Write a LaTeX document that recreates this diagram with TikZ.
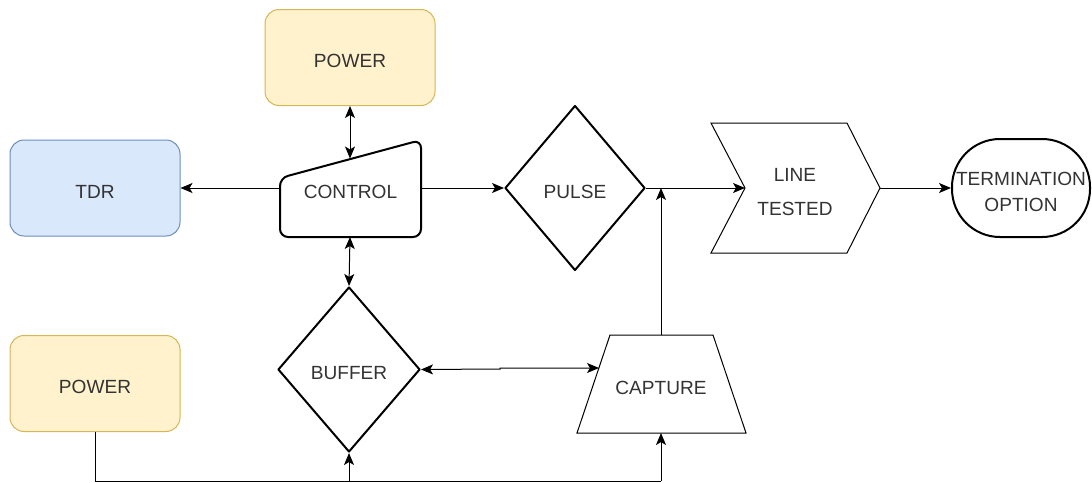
\documentclass[tikz,border=0pt]{standalone}
\usepackage{fontspec}
\setmainfont{Liberation Sans}
\usetikzlibrary{arrows.meta,shapes.geometric,calc}
\definecolor{ybg}{HTML}{FFF2CC}
\definecolor{ybd}{HTML}{D6B656}
\definecolor{bbg}{HTML}{DAE8FC}
\definecolor{bbd}{HTML}{6C8EBF}
\definecolor{txt}{HTML}{333333}
\tikzset{
  every node/.style={font=\fontsize{14.3}{19}\selectfont, text=txt, inner sep=0pt},
  lowered/.style={text height=15pt, text depth=0pt},
  thin line/.style={line width=0.75pt},
  thick line/.style={line width=1.5pt, line join=round},
  tip/.style={-{Stealth[length=9pt,width=7.5pt,inset=2.2pt]}},
  tips/.style={{Stealth[length=9pt,width=7.5pt,inset=2.2pt]}-{Stealth[length=9pt,width=7.5pt,inset=2.2pt]}},
  ybox/.style={draw=ybd, fill=ybg, thin line, rounded corners=10.5pt,
    minimum width=127.5pt, minimum height=72pt, lowered},
  bbox/.style={draw=bbd, fill=bbg, thin line, rounded corners=10.5pt,
    minimum width=127.5pt, minimum height=72pt, lowered},
  decision/.style={diamond, draw, thick line, aspect=0.85, lowered},
  label area/.style={draw=none, rectangle},
}
\begin{document}
\begin{tikzpicture}[x=0.75pt, y=-0.75pt]
\useasboundingbox (0,0) rectangle (1092,482);

% supply and display boxes
\node[ybox] (powerA) at (350,57.5) {POWER};
\node[bbox] (tdr) at (95,188) {TDR};
\node[ybox] (powerB) at (95,383.5) {POWER};

% controller: slanted-top manual input block
\draw[thick line, rounded corners=6pt]
  (280,237) -- (280,178) -- (421,140) -- (421,237) -- cycle;
\node[label area, lowered, minimum width=106.5pt, minimum height=73.5pt] (control) at (350.5,188) {CONTROL};
\coordinate (ctop) at (350,158.5);

% pulse generator and buffer decisions
\node[decision, minimum width=105pt, minimum height=123.75pt] (pulse) at (575,188) {PULSE};
\node[decision, minimum width=106.5pt, minimum height=123.75pt] (buffer) at (349,369.5) {BUFFER};

% line under test: chevron
\draw[thin line] (711,123) -- (847,123) -- (880,188) -- (847,253) -- (711,253) -- (745,188) -- cycle;
\node[label area, align=center] (line) at (795,192) {LINE\\[7pt]TESTED};
\coordinate (notch) at (745,188);
\coordinate (ltip) at (880,188);

% termination: stadium
\node[draw, thick line, rectangle, rounded corners=36pt,
  minimum width=103.5pt, minimum height=73.5pt] (term) at (1021,188) {};
\node[label area, align=center, font=\fontsize{14.3}{19.5}\selectfont] (termtext) at (1021,191.5) {TERMINATION\\OPTION};

% capture: trapezoid
\draw[thin line] (577,433) -- (610,335) -- (713,335) -- (746,433) -- cycle;
\node[label area, lowered] (capture) at (661,384) {CAPTURE};
\coordinate (captop) at (661,335);
\coordinate (capbot) at (661,433);
\coordinate (capleft) at (599,368);

% connectors
\draw[thin line, tips] (powerA.south) -- (ctop);
\draw[thin line, tip] (280,188) -- (tdr.east);
\draw[thin line, tip] (421,188) -- (pulse.west);
\draw[thin line, tip] (pulse.east) -- (notch);
\draw[thin line, tip] (ltip) -- (term.west);
\draw[thin line, tips] (350,237) -- (buffer.north);
\draw[thin line, tips] (buffer.east) -- (500,369) -- (500,368) -- (capleft);
\draw[thin line, tip] (captop) -- (661,188);

% shared supply rail
\coordinate (railL) at (95,481);
\coordinate (railM) at (349,481);
\coordinate (railR) at (661,481);
\draw[thin line] (powerB.south) -- (railL) -- (railR);
\draw[thin line, tip] (railR) -- (capbot);
\draw[thin line, tip] (railM) -- (buffer.south);
\end{tikzpicture}
\end{document}
